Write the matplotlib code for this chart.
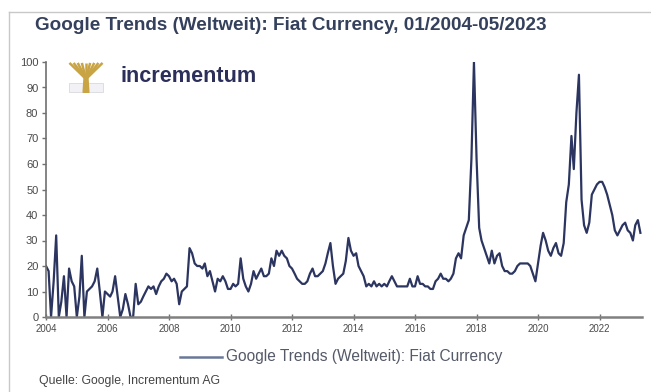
import matplotlib
matplotlib.use("Agg")
import matplotlib.pyplot as plt
import matplotlib.dates as mdates
import numpy as np
import pandas as pd

plt.rcParams['font.family'] = ['Liberation Sans', 'DejaVu Sans']

# Monthly Google Trends index, 01/2004 - 05/2023
v2004 = [20, 18, 0, 14, 32, 0, 6, 16, 0, 19, 14, 12]
v2005 = [0, 8, 24, 0, 10, 11, 12, 14, 19, 10, 0, 10]
v2006 = [9, 8, 10, 16, 8, 0, 3, 9, 5, 0, 0, 13]
v2007 = [5, 6, 8, 10, 12, 11, 12, 9, 12, 14, 15, 17]
v2008 = [16, 14, 15, 13, 5, 10, 11, 12, 27, 25, 21, 20]
v2009 = [20, 19, 21, 16, 18, 14, 10, 15, 14, 16, 14, 11]
v2010 = [11, 13, 12, 13, 23, 15, 12, 10, 13, 18, 15, 17]
v2011 = [19, 16, 16, 17, 23, 20, 26, 24, 26, 24, 23, 20]
v2012 = [19, 17, 15, 14, 13, 13, 14, 17, 19, 16, 16, 17]
v2013 = [18, 21, 25, 29, 20, 13, 15, 16, 17, 22, 31, 26]
v2014 = [24, 25, 20, 18, 16, 12, 13, 12, 14, 12, 13, 12]
v2015 = [13, 12, 14, 16, 14, 12, 12, 12, 12, 12, 15, 12]
v2016 = [12, 16, 13, 13, 12, 12, 11, 11, 14, 15, 17, 15]
v2017 = [15, 14, 15, 17, 23, 25, 23, 32, 35, 38, 62, 100]
v2018 = [62, 35, 30, 27, 24, 21, 26, 21, 24, 25, 20, 18]
v2019 = [18, 17, 17, 18, 20, 21, 21, 21, 21, 20, 17, 14]
v2020 = [21, 28, 33, 30, 26, 24, 27, 29, 25, 24, 29, 45]
v2021 = [52, 71, 58, 80, 95, 46, 36, 33, 37, 48, 50, 52]
v2022 = [53, 53, 51, 48, 44, 40, 34, 32, 34, 36, 37, 34]
v2023 = [33, 30, 36, 38, 33]

values = (v2004 + v2005 + v2006 + v2007 + v2008 + v2009 + v2010 + v2011 + v2012
          + v2013 + v2014 + v2015 + v2016 + v2017 + v2018 + v2019 + v2020
          + v2021 + v2022 + v2023)
dates = pd.date_range("2004-01-01", periods=len(values), freq="MS")
series = pd.Series(values, index=dates)

title = "Google Trends (Weltweit): Fiat Currency, 01/2004-05/2023"
label = "Google Trends (Weltweit): Fiat Currency"
source = "Quelle: Google, Incrementum AG"

W, H = 651, 392
fig = plt.figure(figsize=(W / 100, H / 100), dpi=100)
fig.patch.set_facecolor("white")

ax = fig.add_axes([46 / W, 1 - 317 / H, (642 - 46) / W, (317 - 62) / H])
ax.plot(series.index, series.values, color="#2b3560", lw=1.6)

ax.set_ylim(0, 100)
ax.set_yticks(range(0, 101, 10))
ax.set_xlim(pd.Timestamp("2004-01-01"), pd.Timestamp("2023-05-20"))
ax.xaxis.set_major_locator(mdates.YearLocator(2))
ax.xaxis.set_major_formatter(mdates.DateFormatter("%Y"))

for s in ["top", "right"]:
    ax.spines[s].set_visible(False)
ax.spines["left"].set_color("#707070")
ax.spines["left"].set_linewidth(1.2)
ax.spines["bottom"].set_color("#808080")
ax.spines["bottom"].set_linewidth(1.8)
ax.tick_params(axis="y", direction="out", length=3, width=1, color="#707070",
               labelsize=8, labelcolor="#4a4a4a", pad=2.5)
ax.tick_params(axis="x", direction="inout", length=4, width=1, color="#707070",
               labelsize=7, labelcolor="#4a4a4a", pad=3)

# title, legend, source
fig.text(35 / W, 1 - 25 / H, title, fontsize=13.6, fontweight="bold",
         color="#34405c", va="center", ha="left")
fig.lines.append(plt.Line2D([180 / W, 222 / W], [1 - 357 / H, 1 - 357 / H],
                            transform=fig.transFigure, color="#6a7898", lw=1.8))
fig.text(226 / W, 1 - 357 / H, label, fontsize=11.2, color="#555a68",
         va="center", ha="left")
fig.text(39 / W, 1 - 381 / H, source, fontsize=8.8, color="#444444",
         va="center", ha="left")

# frame lines
fig.lines.append(plt.Line2D([9 / W, 9 / W], [0, 1 - 12 / H],
                            transform=fig.transFigure, color="#c8c8c8", lw=1))
fig.lines.append(plt.Line2D([9 / W, 1], [1 - 12 / H, 1 - 12 / H],
                            transform=fig.transFigure, color="#c8c8c8", lw=1))

# logo
lax = fig.add_axes([68 / W, 1 - 93 / H, 36 / W, 31 / H])
lax.set_xlim(0, 1)
lax.set_ylim(0, 1)
lax.axis("off")
lax.add_patch(plt.Rectangle((0.02, 0.02), 0.96, 0.3, facecolor="#f2f2f6",
                            edgecolor="#d8d8e0", lw=0.6))
lax.fill([0.42, 0.58, 0.55, 0.45], [0.02, 0.02, 0.55, 0.55], color="#c9a444")
for tx in np.linspace(0.04, 0.96, 9):
    lax.plot([0.5, tx], [0.45, 0.97], color="#c9a444", lw=1.8,
             solid_capstyle="butt")
fig.text(120 / W, 1 - 77 / H, "incrementum", fontsize=15.6, fontweight="bold",
         color="#2b2f5a", va="center", ha="left")

fig.savefig("out.png", dpi=100)
